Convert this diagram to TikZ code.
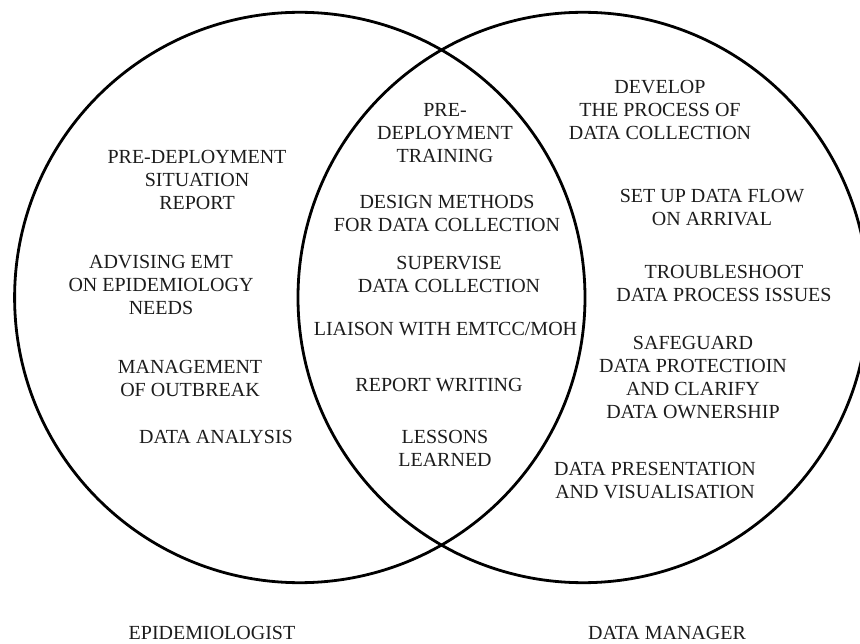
\documentclass[tikz,border=0pt]{standalone}
\usepackage{fontspec}
\setmainfont{Liberation Serif}
\definecolor{ink}{HTML}{1C1C1C}
\begin{document}
\begin{tikzpicture}[x=1pt,y=-1pt,
  ring/.style={circle,draw=black,line width=2.8pt,minimum size=570.4pt,inner sep=0pt},
  item/.style={align=center,inner sep=0pt,text=ink,font=\fontsize{20}{23}\selectfont},
  role/.style={inner sep=0pt,text=ink,font=\fontsize{20}{23}\selectfont}]
\useasboundingbox (0,0) rectangle (860,644);
\node[ring] (epi) at (299.8,297.5) {};
\node[ring] (dm) at (583.2,297.5) {};
% left
\node[item] (l1) at (197,180) {PRE-DEPLOYMENT\\SITUATION\\REPORT};
\node[item] (l2) at (161,284.5) {ADVISING EMT\\ON EPIDEMIOLOGY\\NEEDS};
\node[item] (l3) at (190,378) {MANAGEMENT\\OF OUTBREAK};
\node[item] (l4) at (216,437) {DATA ANALYSIS};
% middle
\node[item] (m1) at (445,133) {PRE-\\DEPLOYMENT\\TRAINING};
\node[item] (m2) at (447,213) {DESIGN METHODS\\FOR DATA COLLECTION};
\node[item] (m3) at (449,274.5) {SUPERVISE\\DATA COLLECTION};
\node[item] (m4) at (445.5,329) {LIAISON WITH EMTCC/MOH};
\node[item] (m5) at (439,385) {REPORT WRITING};
\node[item] (m6) at (445,448) {LESSONS\\LEARNED};
% right
\node[item] (r1) at (660,110) {DEVELOP\\THE PROCESS OF\\DATA COLLECTION};
\node[item] (r2) at (712,207.5) {SET UP DATA FLOW\\ON ARRIVAL};
\node[item] (r3) at (724,283.5) {TROUBLESHOOT\\DATA PROCESS ISSUES};
\node[item] (r4) at (693,377.5) {SAFEGUARD\\DATA PROTECTIOIN\\AND CLARIFY\\DATA OWNERSHIP};
\node[item] (r5) at (655,480.5) {DATA PRESENTATION\\AND VISUALISATION};
% roles
\node[role] (epilabel) at (212,633) {EPIDEMIOLOGIST};
\node[role] (dmlabel) at (667,633) {DATA MANAGER};
\end{tikzpicture}
\end{document}
